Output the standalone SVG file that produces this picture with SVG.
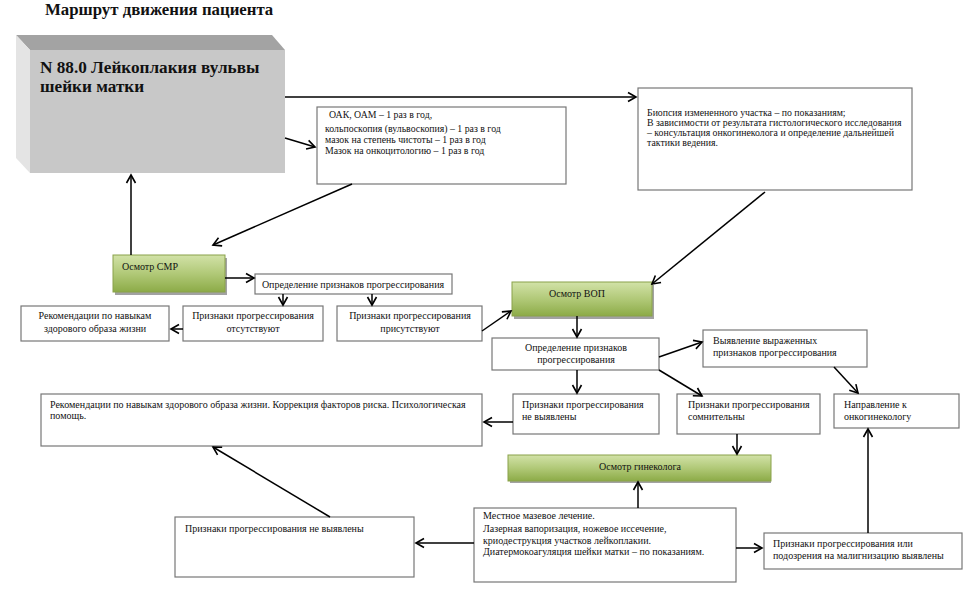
<svg xmlns="http://www.w3.org/2000/svg" width="971" height="589" viewBox="0 0 971 589" font-family="'Liberation Serif', 'Times New Roman', serif">
<defs>
<linearGradient id="g" x1="0" y1="0" x2="0" y2="1">
<stop offset="0" stop-color="#d2e2a8"/>
<stop offset="0.5" stop-color="#b1c978"/>
<stop offset="1" stop-color="#8cab47"/>
</linearGradient>
<marker id="a" markerWidth="12" markerHeight="12" refX="9" refY="6" orient="auto" markerUnits="userSpaceOnUse">
<path d="M1,1.5 L9,6 L1,10.5" fill="none" stroke="#000" stroke-width="1.6"/>
</marker>
</defs>
<style>
text{font-family:"Liberation Serif","Times New Roman",serif;fill:#111;font-size:10px}
.s{font-size:9.8px}
.b{fill:#fff;stroke:#777;stroke-width:1.2}
.gr{fill:url(#g);stroke:#8aa24a;stroke-width:1}
.sh{fill:#555;opacity:.55}
.c line{stroke:#000;stroke-width:1.5;marker-end:url(#a)}
.m{text-anchor:middle}
</style>
<rect width="971" height="589" fill="#fff"/>
<text x="45" y="15" style="font-size:16.8px;font-weight:bold">Маршрут движения пациента</text>

<g id="main">
<polygon points="16,35 272,35 285,50 30,50" fill="#a3a3a3"/>
<polygon points="16,35 30,50 30,173 16,158" fill="#e4e4e4"/>
<rect x="30" y="50" width="255" height="123" fill="#c8c8c8"/>
<text x="40" y="73" style="font-size:17.2px;font-weight:bold">N 88.0 Лейкоплакия вульвы</text>
<text x="40" y="92" style="font-size:17.2px;font-weight:bold">шейки матки</text>
</g>

<g id="oak">
<rect class="b" x="317" y="107" width="249" height="77"/>
<text class="s" x="329" y="118">ОАК, ОАМ – 1 раз в год,</text>
<text class="s" x="325" y="132">кольпоскопия (вульвоскопия) – 1 раз в год</text>
<text class="s" x="325" y="143">мазок на степень чистоты – 1  раз  в год</text>
<text class="s" x="325" y="154">Мазок на онкоцитологию – 1 раз в год</text>
</g>

<g id="biopsy">
<rect class="b" x="638" y="88" width="274" height="102"/>
<text class="s" x="647" y="116">Биопсия измененного участка – по показаниям;</text>
<text class="s" x="647" y="126">В зависимости от результата гистологического исследования</text>
<text class="s" x="647" y="136">– консультация онкогинеколога и определение дальнейшей</text>
<text class="s" x="647" y="146">тактики ведения.</text>
</g>

<g id="smr">
<rect class="sh" x="115" y="258" width="112" height="37"/>
<rect class="gr" x="113" y="255" width="112" height="37"/>
<text x="122" y="270">Осмотр СМР</text>
</g>

<g id="opr1">
<rect class="b" x="255" y="274" width="197" height="20"/>
<text class="m" x="353" y="288">Определение признаков прогрессирования</text>
</g>

<g id="rek1">
<rect class="b" x="21" y="306" width="148" height="35"/>
<text class="m" x="95" y="319">Рекомендации по навыкам</text>
<text class="m" x="95" y="332">здорового образа жизни</text>
</g>

<g id="otsut">
<rect class="b" x="183" y="306" width="140" height="35"/>
<text class="m" x="253" y="319">Признаки прогрессирования</text>
<text class="m" x="253" y="332">отсутствуют</text>
</g>

<g id="prisut">
<rect class="b" x="337" y="306" width="145" height="35"/>
<text class="m" x="410" y="319">Признаки прогрессирования</text>
<text class="m" x="410" y="332">присутствуют</text>
</g>

<g id="vop">
<rect class="sh" x="514" y="285" width="140" height="34"/>
<rect class="gr" x="512" y="282" width="140" height="34"/>
<text class="m" x="577" y="297">Осмотр ВОП</text>
</g>

<g id="opr2">
<rect class="b" x="492" y="338" width="167" height="32"/>
<text class="m" x="576" y="351">Определение признаков</text>
<text class="m" x="576" y="363">прогрессирования</text>
</g>

<g id="vyyav">
<rect class="b" x="703" y="330" width="164" height="37"/>
<text x="713" y="344">Выявление выраженных</text>
<text x="713" y="356">признаков прогрессирования</text>
</g>

<g id="rek2">
<rect class="b" x="41" y="394" width="441" height="52"/>
<text x="50" y="408">Рекомендации по навыкам здорового образа жизни. Коррекция факторов риска. Психологическая</text>
<text x="50" y="419">помощь.</text>
</g>

<g id="nevyyav">
<rect class="b" x="513" y="394" width="146" height="40"/>
<text x="522" y="408">Признаки прогрессирования</text>
<text x="522" y="420">не выявлены</text>
</g>

<g id="somn">
<rect class="b" x="677" y="394" width="143" height="40"/>
<text x="688" y="408">Признаки прогрессирования</text>
<text x="688" y="420">сомнительны</text>
</g>

<g id="napr">
<rect class="b" x="834" y="394" width="125" height="34"/>
<text x="844" y="408">Направление к</text>
<text x="844" y="420">онкогинекологу</text>
</g>

<g id="gin">
<rect class="sh" x="510" y="457" width="261" height="26"/>
<rect class="gr" x="508" y="455" width="263" height="26"/>
<text class="m" x="640" y="470">Осмотр гинеколога</text>
</g>

<g id="nevyyav2">
<rect class="b" x="175" y="517" width="239" height="60"/>
<text x="185" y="532">Признаки прогрессирования не выявлены</text>
</g>

<g id="treat">
<rect class="b" x="474" y="508" width="262" height="74"/>
<text x="483" y="519">Местное мазевое лечение.</text>
<text x="483" y="532">Лазерная вапоризация, ножевое иссечение,</text>
<text x="483" y="544">криодеструкция участков лейкоплакии.</text>
<text x="483" y="555">Диатермокоагуляция шейки матки – по показаниям.</text>
</g>

<g id="malig">
<rect class="b" x="764" y="533" width="198" height="36"/>
<text x="773" y="547">Признаки прогрессирования или</text>
<text x="773" y="559">подозрения на малигнизацию выявлены</text>
</g>

<g class="c" id="connectors">
<line x1="285" y1="97" x2="636" y2="97"/>
<line x1="285" y1="138" x2="315" y2="147"/>
<line x1="352" y1="184" x2="213" y2="245"/>
<line x1="131" y1="255" x2="131" y2="175"/>
<line x1="225" y1="278" x2="254" y2="278"/>
<line x1="283" y1="294" x2="283" y2="305"/>
<line x1="372" y1="294" x2="372" y2="305"/>
<line x1="183" y1="329" x2="171" y2="329"/>
<line x1="482" y1="331" x2="511" y2="311"/>
<line x1="765" y1="192" x2="652" y2="284"/>
<line x1="577" y1="316" x2="577" y2="337"/>
<line x1="659" y1="357" x2="702" y2="342"/>
<line x1="577" y1="370" x2="577" y2="393"/>
<line x1="659" y1="370" x2="702" y2="396"/>
<line x1="834" y1="367" x2="858" y2="393"/>
<line x1="513" y1="422" x2="484" y2="422"/>
<line x1="737" y1="434" x2="737" y2="454"/>
<line x1="330" y1="517" x2="213" y2="447"/>
<line x1="638" y1="508" x2="638" y2="482"/>
<line x1="474" y1="543" x2="416" y2="543"/>
<line x1="736" y1="548" x2="762" y2="548"/>
<line x1="868" y1="533" x2="868" y2="429"/>
</g>
</svg>
